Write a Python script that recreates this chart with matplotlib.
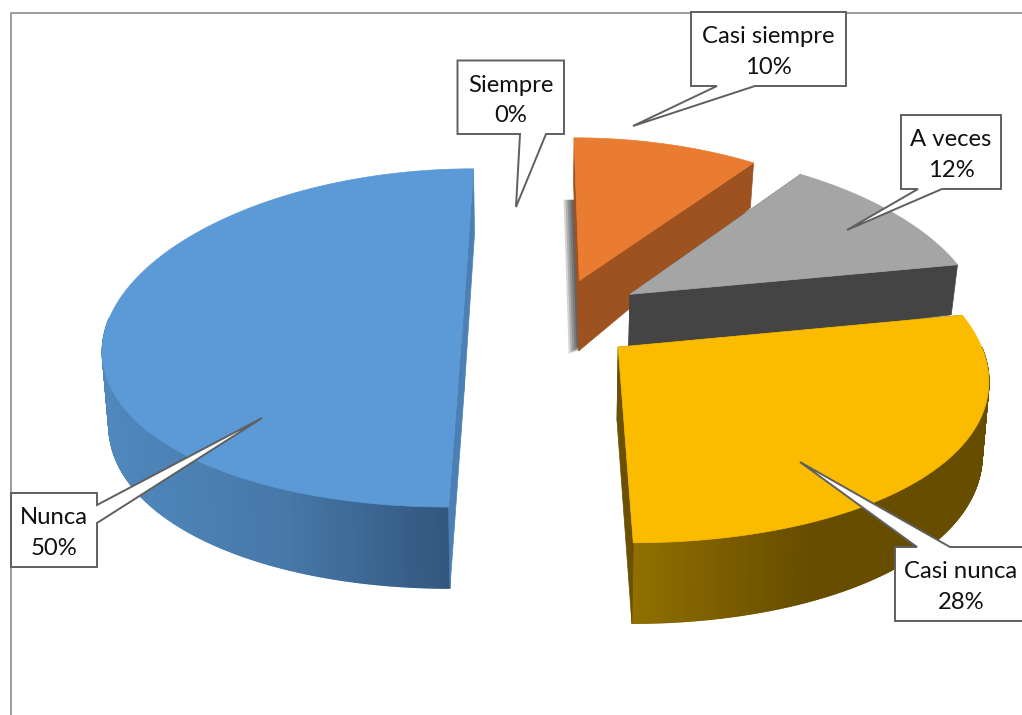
import numpy as np
import matplotlib
matplotlib.use("Agg")
import matplotlib.pyplot as plt
from matplotlib.collections import PolyCollection
from matplotlib.colors import LinearSegmentedColormap
from matplotlib.patches import Polygon

plt.rcParams['font.family'] = ['Lato', 'DejaVu Sans']

categories = ["Siempre", "Casi siempre", "A veces", "Casi nunca", "Nunca"]
values = [0, 10, 12, 28, 50]

top_colors = ["#7f7f7f", "#e97c30", "#a5a5a5", "#fbbc00", "#5b9ad6"]
face_colors = ["#7f7f7f", "#9e5220", "#444444", "#6a5000", "#4c80b5"]
rim_stops = [["#7f7f7f"] * 2,
             ["#9e5220"] * 2,
             ["#444444"] * 2,
             ["#916f00", "#664d00", "#664d00"],
             ["#5088bd", "#4678a8", "#2f5178"]]
# how far each slice is pulled out of the pie
explode_x = [0, 0.115, 0.26, 0.215, -0.2175]
explode_y = [0, 0.235, 0.15, -0.165, 0]
depth_apex = [0, 72, 60, 72, 72]
depth_rim = [0, 50, 52, 70, 72]

# view of the tilted pie, in pixels
X0, Y0, W, H, P, PX = 540, 319, 354, 167, 0.112, 0.158
SHRINK = 0.985


def project(X, Y):
    s = 1 / (1 + P * Y)
    return X0 + W * X / (1 + PX * Y), Y0 - H * Y * s, s


def bottom(x, y, s, d):
    return X0 + (x - X0) * SHRINK, y + d * s


fig = plt.figure(figsize=(10.22, 7.15), dpi=100)
ax = fig.add_axes([0, 0, 1, 1])
ax.set_xlim(0, 1022)
ax.set_ylim(715, 0)
ax.axis("off")

# chart frame
ax.plot([10.5, 10.5, 1022], [715, 12.5, 12.5], color="#8c8c8c", lw=1.2, zorder=1)

fracs = np.cumsum([0] + values) / sum(values) * 2 * np.pi
z = 2
for i in [1, 2, 3, 4]:
    t0, t1 = fracs[i], fracs[i + 1]
    ex, ey = explode_x[i], explode_y[i]
    t = np.linspace(t0, t1, 400)
    rx, ry, rs = project(ex + np.sin(t), ey + np.cos(t))
    ax_, ay_, as_ = project(np.array([ex]), np.array([ey]))
    rbx, rby = bottom(rx, ry, rs, depth_rim[i])
    abx, aby = bottom(ax_, ay_, as_, depth_apex[i])

    # soft shadow behind the Casi siempre slice
    if i == 1:
        for k in range(1, 6):
            w = 2 * k
            ax.add_patch(Polygon([(rbx[0] - w, rby[0] + 18), (abx[0] - w, aby[0] + w * 0.3),
                                  (rbx[-1], rby[-1] + w), (rbx[0] + 20, rby[0] + 18)],
                                 closed=True, fc="black", ec="none", alpha=0.17, zorder=z))
        z += 1

    # outer wall, only the part of the rim that faces the viewer
    front = np.flatnonzero(np.cos(t[:-1]) < 0)
    quads = [[(rx[j], ry[j]), (rx[j + 1], ry[j + 1]), (rbx[j + 1], rby[j + 1]), (rbx[j], rby[j])]
             for j in front]
    cmap = LinearSegmentedColormap.from_list("rim", rim_stops[i], N=1024)
    c = cmap((rx[front] - rx.min()) / (rx.max() - rx.min()))
    ax.add_collection(PolyCollection(quads, facecolors=c, edgecolors=c, linewidths=1.0, zorder=z))
    z += 1

    # cut faces
    for j in [0, -1]:
        ax.add_patch(Polygon([(ax_[0], ay_[0]), (rx[j], ry[j]), (rbx[j], rby[j]), (abx[0], aby[0])],
                             closed=True, fc=face_colors[i], ec=face_colors[i], lw=0.5, zorder=z))
    z += 1

    # top
    ax.add_patch(Polygon(np.column_stack([np.r_[ax_, rx], np.r_[ay_, ry]]), closed=True,
                         fc=top_colors[i], ec=top_colors[i], lw=0.5, zorder=z))
    z += 1

# callouts: box left, top, right, bottom, then pointer tip and the two base points
callouts = {
    "Siempre": ((457.5, 60.5, 564, 134), (516, 207), (546, 134), (520, 134), "bottom"),
    "Casi siempre": ((691, 12, 846, 86), (633, 126), (755, 86), (717, 86), "bottom"),
    "A veces": ((901, 115, 1001, 189), (847, 230), (942, 189), (918, 189), "bottom"),
    "Casi nunca": ((895, 547, 1030, 621), (800, 462), (917, 547), (950, 547), "top"),
    "Nunca": ((11, 493, 97, 567), (262, 418), (97, 505), (97, 523), "right"),
}
for cat, v in zip(categories, values):
    (l, tp, r, b), tip, p1, p2, side = callouts[cat]
    if side == "bottom":
        pts = [(l, tp), (r, tp), (r, b), p1, tip, p2, (l, b)]
    elif side == "top":
        pts = [(l, tp), p1, tip, p2, (r, tp), (r, b), (l, b)]
    else:
        pts = [(l, tp), (r, tp), p1, tip, p2, (r, b), (l, b)]
    ax.add_patch(Polygon(pts, closed=True, fc="white", ec="#5f5f5f", lw=1.4, joinstyle="miter", zorder=50))
    cx = (l + min(r, 1027)) / 2
    ax.text(cx, (tp + b) / 2 + 3, f"{cat}\n{v}%", ha="center", va="center", fontsize=17.2,
            color="#111111", linespacing=1.53, zorder=51)

fig.savefig("out.png", dpi=100)
